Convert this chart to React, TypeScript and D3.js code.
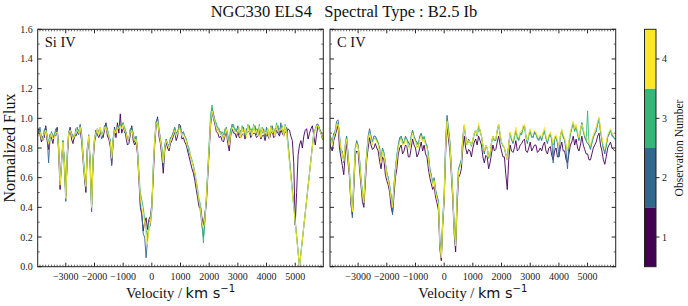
import React from 'react'
import * as d3 from 'd3'

// velocity grid of the spectra (km/s), one row of 20 values per 1000 km/s below
const velocity = d3.range(-4000, 6001, 50)

// Si IV, normalized flux per observation (null = no data)
const siObs1 = [
  0.85, 0.93, 0.89, 0.84, 0.88, 0.87, 0.95, 0.85, 0.79, 0.89, 0.87, 0.83, 0.89, 0.88, 0.94, 0.77, 0.52, 0.72, 0.81, 0.73,
  0.48, 0.72, 0.88, 0.94, 0.86, 0.83, 0.89, 0.88, 0.90, 0.92, 0.92, 0.85, 0.72, 0.60, 0.50, 0.80, 0.85, 0.72, 0.42, 0.70,
  0.83, 0.92, 0.89, 0.87, 0.90, 0.90, 0.87, 0.92, 0.97, 0.88, 0.86, 0.81, 0.69, 0.83, 0.94, 0.87, 0.97, 0.90, 1.03, 0.90,
  0.93, 0.94, 0.87, 0.82, 0.83, 0.89, 0.95, 0.85, 0.82, 0.84, 0.76, 0.58, 0.40, 0.35, 0.24, 0.30, 0.33, 0.25, 0.32, 0.34,
  0.42, 0.60, 0.82, 0.95, 1.01, 0.88, 0.83, 0.74, 0.63, 0.78, 0.84, 0.80, 0.78, 0.83, 0.85, 0.88, 0.91, 0.85, 0.88, 0.96,
  0.95, 0.86, 0.87, 0.84, 0.82, 0.78, 0.74, 0.70, 0.66, 0.63, 0.58, 0.52, 0.46, 0.40, 0.40, 0.33, 0.28, 0.36, 0.42, 0.60,
  0.78, 0.95, 1.04, 1.00, 0.96, 0.91, 0.90, 0.87, 0.88, 0.85, 0.84, 0.88, 0.91, 0.83, 0.78, 0.88, 0.93, 0.90, 0.90, 0.87,
  0.91, 0.87, 0.87, 0.89, 0.90, 0.86, 0.90, 0.91, 0.91, 0.87, 0.89, 0.90, 0.90, 0.87, 0.88, 0.92, 0.86, 0.88, 0.89, 0.85,
  0.90, 0.88, 0.86, 0.90, 0.91, 0.87, 0.88, 0.92, 0.90, 0.88, 0.92, 0.90, 0.88, 0.91, 0.90, 0.93, 0.92, 0.88, 0.85, 0.70,
  0.28, 0.50, 0.75, 0.82, 0.85, 0.80, 0.88, 0.92, 0.93, 0.86, 0.90, 0.93, 0.95, 0.88, 0.82, 0.90, 0.95, 0.92, 0.90, 0.86,
  0.85,
]
const siObs2 = [
  0.89, 0.90, 0.94, 0.86, 0.85, 0.92, 0.94, 0.87, 0.70, 0.86, 0.91, 0.88, 0.88, 0.93, 0.93, 0.82, 0.56, 0.68, 0.85, 0.66,
  0.44, 0.76, 0.91, 0.93, 0.90, 0.87, 0.86, 0.93, 0.94, 0.89, 0.96, 0.90, 0.76, 0.63, 0.52, 0.77, 0.87, 0.66, 0.37, 0.74,
  0.85, 0.88, 0.93, 0.91, 0.92, 0.86, 0.89, 0.95, 0.96, 0.93, 0.87, 0.86, 0.68, 0.86, 0.91, 0.92, 0.94, 0.95, 0.96, 0.94,
  0.97, 0.90, 0.91, 0.86, 0.85, 0.93, 0.94, 0.90, 0.84, 0.88, 0.79, 0.62, 0.42, 0.36, 0.22, 0.20, 0.06, 0.18, 0.26, 0.28,
  0.38, 0.66, 0.84, 0.98, 1.00, 0.93, 0.86, 0.80, 0.68, 0.82, 0.86, 0.83, 0.81, 0.87, 0.88, 0.91, 0.94, 0.90, 0.91, 0.93,
  0.92, 0.90, 0.91, 0.88, 0.86, 0.81, 0.77, 0.74, 0.71, 0.68, 0.60, 0.57, 0.48, 0.44, 0.36, 0.28, 0.20, 0.30, 0.44, 0.64,
  0.80, 0.99, 1.07, 1.03, 0.99, 0.95, 0.94, 0.91, 0.91, 0.89, 0.86, 0.91, 0.94, 0.87, 0.83, 0.91, 0.96, 0.94, 0.93, 0.91,
  0.95, 0.89, 0.92, 0.91, 0.94, 0.88, 0.93, 0.93, 0.95, 0.89, 0.93, 0.92, 0.95, 0.89, 0.93, 0.93, 0.91, 0.90, 0.93, 0.87,
  0.94, 0.89, 0.90, 0.91, 0.95, 0.89, 0.93, 0.93, 0.95, 0.89, 0.97, 0.91, 0.92, 0.92, 0.94, null, null, null, null, null,
  null, null, null, 0.00, null, null, null, null, null, null, null, null, null, 0.90, 0.92, 0.96, 0.96, 0.93, 0.91, 0.88,
  0.86,
]
const siObs3 = [
  0.90, 0.92, 0.91, 0.88, 0.87, 0.91, 0.92, 0.89, 0.84, 0.88, 0.90, 0.87, 0.88, 0.92, 0.91, 0.81, 0.58, 0.71, 0.85, 0.72,
  0.48, 0.76, 0.90, 0.91, 0.90, 0.88, 0.88, 0.90, 0.93, 0.91, 0.95, 0.89, 0.76, 0.64, 0.55, 0.79, 0.89, 0.71, 0.40, 0.73,
  0.87, 0.91, 0.92, 0.90, 0.94, 0.89, 0.91, 0.93, 0.95, 0.92, 0.89, 0.85, 0.74, 0.87, 0.93, 0.91, 0.95, 0.94, 0.96, 0.94,
  0.97, 0.93, 0.90, 0.86, 0.87, 0.92, 0.93, 0.89, 0.86, 0.87, 0.80, 0.63, 0.50, 0.45, 0.40, 0.32, 0.25, 0.20, 0.30, 0.32,
  0.40, 0.68, 0.86, 0.97, 0.99, 0.92, 0.86, 0.79, 0.70, 0.81, 0.85, 0.83, 0.81, 0.86, 0.88, 0.90, 0.93, 0.89, 0.91, 0.95,
  0.93, 0.89, 0.90, 0.88, 0.86, 0.82, 0.80, 0.75, 0.72, 0.68, 0.64, 0.58, 0.52, 0.45, 0.42, 0.28, 0.16, 0.34, 0.47, 0.65,
  0.84, 1.02, 1.09, 1.00, 0.97, 0.97, 0.92, 0.93, 0.89, 0.91, 0.89, 0.93, 0.92, 0.89, 0.85, 0.93, 0.94, 0.96, 0.91, 0.93,
  0.92, 0.93, 0.88, 0.95, 0.91, 0.92, 0.89, 0.96, 0.92, 0.93, 0.90, 0.96, 0.91, 0.93, 0.90, 0.96, 0.88, 0.94, 0.90, 0.91,
  0.91, 0.93, 0.87, 0.95, 0.92, 0.93, 0.90, 0.97, 0.92, 0.93, 0.94, 0.95, 0.89, 0.96, 0.91, null, null, null, null, null,
  null, null, null, 0.00, null, null, null, null, null, null, null, null, null, 0.91, 0.93, 0.95, 0.95, 0.92, 0.90, 0.87,
  0.85,
]
const siObs4 = [
  0.88, 0.90, 0.91, 0.86, 0.86, 0.90, 0.92, 0.87, 0.83, 0.87, 0.90, 0.86, 0.87, 0.90, 0.91, 0.80, 0.55, 0.70, 0.84, 0.70,
  0.46, 0.75, 0.90, 0.92, 0.89, 0.86, 0.88, 0.91, 0.92, 0.90, 0.94, 0.88, 0.74, 0.62, 0.54, 0.78, 0.88, 0.70, 0.40, 0.72,
  0.86, 0.90, 0.93, 0.89, 0.94, 0.88, 0.90, 0.94, 0.94, 0.91, 0.88, 0.84, 0.73, 0.85, 0.92, 0.90, 0.94, 0.93, 0.95, 0.93,
  0.96, 0.92, 0.90, 0.85, 0.86, 0.91, 0.92, 0.88, 0.85, 0.86, 0.78, 0.60, 0.46, 0.40, 0.35, 0.30, 0.20, 0.15, 0.26, 0.30,
  0.40, 0.65, 0.85, 0.96, 0.98, 0.91, 0.85, 0.78, 0.70, 0.80, 0.85, 0.82, 0.80, 0.85, 0.87, 0.89, 0.92, 0.88, 0.90, 0.93,
  0.92, 0.88, 0.89, 0.87, 0.85, 0.80, 0.79, 0.74, 0.71, 0.67, 0.63, 0.57, 0.50, 0.44, 0.38, 0.30, 0.26, 0.33, 0.45, 0.63,
  0.80, 0.97, 1.05, 1.01, 0.98, 0.93, 0.93, 0.90, 0.90, 0.88, 0.86, 0.89, 0.93, 0.86, 0.82, 0.89, 0.94, 0.92, 0.92, 0.90,
  0.90, 0.94, 0.87, 0.93, 0.89, 0.93, 0.87, 0.95, 0.90, 0.92, 0.88, 0.95, 0.90, 0.92, 0.88, 0.95, 0.87, 0.93, 0.89, 0.91,
  0.89, 0.93, 0.86, 0.94, 0.90, 0.93, 0.88, 0.95, 0.91, 0.92, 0.92, 0.94, 0.88, 0.95, 0.90, null, null, null, null, null,
  null, null, null, 0.00, null, null, null, null, null, null, null, null, null, 0.90, 0.92, 0.95, 0.95, 0.92, 0.90, 0.87,
  0.85,
]

// C IV, normalized flux per observation
const cObs1 = [
  0.85, 0.80, 0.78, 0.85, 0.88, 0.92, 0.95, 0.80, 0.74, 0.68, 0.62, 0.76, 0.83, 0.70, 0.60, 0.42, 0.35, 0.52, 0.75, 0.78,
  0.77, 0.66, 0.55, 0.44, 0.40, 0.56, 0.72, 0.80, 0.87, 0.82, 0.79, 0.80, 0.83, 0.80, 0.78, 0.71, 0.66, 0.74, 0.72, 0.62,
  0.58, 0.55, 0.50, 0.40, 0.36, 0.48, 0.60, 0.66, 0.76, 0.80, 0.82, 0.76, 0.78, 0.82, 0.81, 0.74, 0.74, 0.80, 0.86, 0.82,
  0.80, 0.74, 0.76, 0.80, 0.84, 0.78, 0.82, 0.76, 0.74, 0.66, 0.60, 0.56, 0.52, 0.54, 0.47, 0.43, 0.38, 0.12, 0.04, 0.28,
  0.44, 0.76, 0.95, 0.86, 0.78, 0.62, 0.45, 0.22, 0.10, 0.40, 0.60, 0.62, 0.66, 0.80, 0.88, 0.80, 0.76, 0.79, 0.78, 0.74,
  0.80, 0.84, 0.86, 0.82, 0.88, 0.85, 0.82, 0.74, 0.70, 0.75, 0.74, 0.66, 0.70, 0.76, 0.82, 0.78, 0.79, 0.84, 0.88, 0.82,
  0.78, 0.74, 0.74, 0.62, 0.52, 0.72, 0.82, 0.78, 0.77, 0.80, 0.85, 0.78, 0.79, 0.82, 0.83, 0.85, 0.86, 0.78, 0.77, 0.80,
  0.84, 0.78, 0.80, 0.82, 0.82, 0.77, 0.78, 0.80, 0.78, 0.82, 0.84, 0.78, 0.76, 0.80, 0.81, 0.75, 0.72, 0.78, 0.80, 0.74,
  0.74, 0.80, 0.84, 0.78, 0.78, 0.72, 0.70, 0.76, 0.82, 0.84, 0.88, 0.82, 0.86, 0.80, 0.78, 0.82, 0.88, 0.82, 0.79, 0.76,
  0.76, 0.72, 0.72, 0.76, 0.80, 0.82, 0.84, 0.88, 0.90, 0.82, 0.78, 0.72, 0.69, 0.74, 0.80, 0.82, 0.84, 0.80, 0.79, 0.78,
  0.78,
]
const cObs2 = [
  0.88, 0.87, 0.84, 0.90, 0.91, 0.98, 0.99, 0.89, 0.77, 0.78, 0.70, 0.82, 0.88, 0.76, 0.63, 0.44, 0.33, 0.57, 0.79, 0.85,
  0.82, 0.72, 0.59, 0.50, 0.42, 0.62, 0.76, 0.88, 0.93, 0.88, 0.84, 0.88, 0.88, 0.86, 0.83, 0.80, 0.71, 0.80, 0.77, 0.70,
  0.63, 0.60, 0.54, 0.47, 0.35, 0.55, 0.66, 0.75, 0.82, 0.87, 0.88, 0.85, 0.83, 0.88, 0.86, 0.84, 0.82, 0.88, 0.92, 0.88,
  0.85, 0.84, 0.82, 0.88, 0.90, 0.86, 0.87, 0.84, 0.81, 0.76, 0.66, 0.62, 0.56, 0.60, 0.52, 0.48, 0.44, 0.18, 0.08, 0.32,
  0.48, 0.84, 1.02, 0.93, 0.84, 0.68, 0.50, 0.28, 0.16, 0.48, 0.66, 0.69, 0.72, 0.88, 0.95, 0.88, 0.82, 0.86, 0.84, 0.82,
  0.85, 0.90, 0.92, 0.88, 0.95, 0.92, 0.88, 0.82, 0.76, 0.82, 0.80, 0.74, 0.75, 0.84, 0.88, 0.85, 0.85, 0.92, 0.96, 0.89,
  0.83, 0.82, 0.80, 0.76, 0.72, 0.83, 0.90, 0.86, 0.83, 0.88, 0.92, 0.88, 0.85, 0.90, 0.89, 0.94, 0.95, 0.88, 0.83, 0.89,
  0.91, 0.88, 0.87, 0.91, 0.89, 0.87, 0.85, 0.88, 0.85, 0.90, 0.91, 0.87, 0.83, 0.88, 0.89, 0.86, 0.70, 0.86, 0.87, 0.84,
  0.74, 0.88, 0.92, 0.88, 0.85, 0.78, 0.66, 0.84, 0.89, 0.94, 0.97, 0.92, 0.94, 0.90, 0.85, 0.92, 0.97, 0.92, 0.87, 0.85,
  0.83, 0.82, 0.79, 0.84, 0.87, 0.90, 0.91, 0.97, 1.00, 0.92, 0.85, 0.80, 0.76, 0.82, 0.87, 0.90, 0.92, 0.89, 0.87, 0.86,
  0.85,
]
const cObs3 = [
  0.89, 0.84, 0.83, 0.86, 0.92, 0.94, 0.97, 0.88, 0.80, 0.75, 0.72, 0.79, 0.87, 0.75, 0.64, 0.48, 0.38, 0.58, 0.80, 0.84,
  0.81, 0.73, 0.60, 0.50, 0.45, 0.62, 0.77, 0.86, 0.91, 0.87, 0.84, 0.86, 0.87, 0.85, 0.84, 0.77, 0.72, 0.79, 0.76, 0.70,
  0.64, 0.59, 0.55, 0.48, 0.42, 0.54, 0.66, 0.74, 0.81, 0.85, 0.88, 0.83, 0.84, 0.87, 0.86, 0.81, 0.81, 0.87, 0.91, 0.87,
  0.86, 0.81, 0.81, 0.87, 0.89, 0.85, 0.88, 0.83, 0.82, 0.74, 0.66, 0.61, 0.57, 0.59, 0.51, 0.47, 0.44, 0.16, 0.07, 0.31,
  0.47, 0.82, 0.99, 0.92, 0.84, 0.66, 0.49, 0.27, 0.15, 0.46, 0.65, 0.68, 0.72, 0.86, 0.94, 0.87, 0.82, 0.85, 0.84, 0.81,
  0.86, 0.89, 0.92, 0.88, 0.94, 0.91, 0.88, 0.81, 0.77, 0.81, 0.80, 0.73, 0.76, 0.83, 0.88, 0.85, 0.86, 0.91, 0.95, 0.89,
  0.84, 0.81, 0.80, 0.75, 0.74, 0.81, 0.90, 0.85, 0.84, 0.87, 0.92, 0.86, 0.86, 0.89, 0.90, 0.93, 0.95, 0.87, 0.84, 0.88,
  0.92, 0.87, 0.88, 0.90, 0.90, 0.86, 0.86, 0.87, 0.86, 0.89, 0.92, 0.86, 0.84, 0.87, 0.90, 0.85, 0.82, 0.86, 0.88, 0.83,
  0.82, 0.87, 0.92, 0.87, 0.86, 0.81, 0.78, 0.83, 0.90, 0.93, 0.97, 0.91, 0.95, 0.89, 0.86, 0.91, 0.97, 0.91, 0.88, 0.85,
  1.05, 0.82, 0.80, 0.83, 0.88, 0.89, 0.92, 0.96, 0.98, 0.91, 0.86, 0.79, 0.78, 0.81, 0.88, 0.89, 0.92, 0.88, 0.88, 0.86,
  0.86,
]
const cObs4 = [
  0.88, 0.86, 0.82, 0.88, 0.90, 0.96, 0.96, 0.87, 0.79, 0.76, 0.71, 0.81, 0.86, 0.74, 0.62, 0.46, 0.37, 0.56, 0.78, 0.83,
  0.80, 0.71, 0.58, 0.49, 0.43, 0.61, 0.75, 0.86, 0.90, 0.86, 0.82, 0.86, 0.86, 0.84, 0.82, 0.77, 0.70, 0.78, 0.75, 0.69,
  0.62, 0.58, 0.53, 0.46, 0.40, 0.53, 0.64, 0.73, 0.80, 0.84, 0.86, 0.82, 0.82, 0.86, 0.84, 0.80, 0.80, 0.86, 0.90, 0.86,
  0.84, 0.80, 0.80, 0.86, 0.88, 0.84, 0.86, 0.82, 0.80, 0.73, 0.64, 0.60, 0.55, 0.58, 0.50, 0.46, 0.42, 0.15, 0.06, 0.30,
  0.46, 0.80, 0.98, 0.90, 0.82, 0.65, 0.48, 0.25, 0.14, 0.45, 0.64, 0.67, 0.70, 0.86, 0.96, 0.87, 0.82, 0.85, 0.84, 0.82,
  0.86, 0.90, 0.92, 0.89, 0.97, 0.92, 0.88, 0.82, 0.78, 0.82, 0.80, 0.74, 0.76, 0.84, 0.88, 0.86, 0.86, 0.92, 0.96, 0.90,
  0.84, 0.82, 0.80, 0.76, 0.72, 0.82, 0.91, 0.87, 0.85, 0.89, 0.94, 0.88, 0.87, 0.91, 0.91, 0.95, 0.96, 0.88, 0.85, 0.90,
  0.93, 0.89, 0.90, 0.92, 0.91, 0.88, 0.87, 0.89, 0.87, 0.91, 0.94, 0.88, 0.85, 0.89, 0.91, 0.87, 0.83, 0.88, 0.89, 0.85,
  0.82, 0.88, 0.93, 0.89, 0.87, 0.82, 0.78, 0.85, 0.91, 0.95, 0.98, 0.93, 0.96, 0.91, 0.87, 0.93, 0.96, 0.93, 0.89, 0.87,
  0.86, 0.84, 0.82, 0.86, 0.89, 0.92, 0.94, 0.98, 1.01, 0.93, 0.87, 0.82, 0.80, 0.84, 0.89, 0.91, 0.93, 0.90, 0.89, 0.88,
  0.87,
]

const obsNumbers = [1, 2, 3, 4]
const obsColors = ['#440154', '#31688e', '#35b779', '#fde725']
const xTicks = [-3000, -2000, -1000, 0, 1000, 2000, 3000, 4000, 5000]
const yTicks = [0, 0.2, 0.4, 0.6, 0.8, 1.0, 1.2, 1.4, 1.6]

const panels = [
  { id: 'si', label: 'Si IV', left: 37.7, right: 323.3, series: [siObs1, siObs2, siObs3, siObs4], yLabels: true },
  { id: 'c', label: 'C IV', left: 330, right: 615.7, series: [cObs1, cObs2, cObs3, cObs4], yLabels: false },
]

const TOP = 29.3
const BOTTOM = 266.7
const SERIF = '"Liberation Serif", "Times New Roman", serif'
const SANS = '"DejaVu Sans", sans-serif'
const AXIS = '#222'

const fmtX = (v: number) => (v < 0 ? '\u2212' : '') + Math.abs(v)

function Panel({ p }: { p: typeof panels[number] }) {
  const x = d3.scaleLinear().domain([-3980, 5980]).range([p.left, p.right])
  const y = d3.scaleLinear().domain([0, 1.6]).range([BOTTOM, TOP])
  const line = d3.line<[number, number]>().x(d => x(d[0])).y(d => y(d[1]))
  const xMinor = d3.range(-3900, 6000, 100).filter(v => v % 1000 !== 0)
  const yMinor = d3.range(0.1, 1.6, 0.2)
  const clipId = 'clip-' + p.id

  return (
    <g>
      <clipPath id={clipId}>
        <rect x={p.left} y={TOP} width={p.right - p.left} height={BOTTOM - TOP} />
      </clipPath>
      <g clipPath={`url(#${clipId})`}>
        {p.series.map((s, i) => {
          // missing samples are skipped, so the line joins across the gap
          const pts = velocity
            .map((v, k) => [v, s[k]] as [number, number | null])
            .filter(d => d[1] !== null) as [number, number][]
          return <path key={i} d={line(pts) || ''} fill="none" stroke={obsColors[i]} strokeWidth={0.9} strokeLinejoin="round" />
        })}
      </g>
      <rect x={p.left} y={TOP} width={p.right - p.left} height={BOTTOM - TOP} fill="none" stroke={AXIS} strokeWidth={1} />
      {xTicks.map(t => (
        <g key={'xt' + t}>
          <line x1={x(t)} x2={x(t)} y1={BOTTOM} y2={BOTTOM - 4} stroke={AXIS} />
          <line x1={x(t)} x2={x(t)} y1={TOP} y2={TOP + 4} stroke={AXIS} />
          <text x={x(t)} y={BOTTOM + 13} textAnchor="middle" fontFamily={SERIF} fontSize={10} fill="#222">{fmtX(t)}</text>
        </g>
      ))}
      {xMinor.map(t => (
        <g key={'xm' + t}>
          <line x1={x(t)} x2={x(t)} y1={BOTTOM} y2={BOTTOM - 2} stroke={AXIS} strokeWidth={0.7} />
          <line x1={x(t)} x2={x(t)} y1={TOP} y2={TOP + 2} stroke={AXIS} strokeWidth={0.7} />
        </g>
      ))}
      {yTicks.map(t => (
        <g key={'yt' + t}>
          <line x1={p.left} x2={p.left + 4} y1={y(t)} y2={y(t)} stroke={AXIS} />
          <line x1={p.right} x2={p.right - 4} y1={y(t)} y2={y(t)} stroke={AXIS} />
          {p.yLabels && (
            <text x={p.left - 5} y={y(t) + 3.5} textAnchor="end" fontFamily={SERIF} fontSize={10} fill="#222">{d3.format('.1f')(t)}</text>
          )}
        </g>
      ))}
      {yMinor.map(t => (
        <g key={'ym' + t}>
          <line x1={p.left} x2={p.left + 2} y1={y(t)} y2={y(t)} stroke={AXIS} strokeWidth={0.7} />
          <line x1={p.right} x2={p.right - 2} y1={y(t)} y2={y(t)} stroke={AXIS} strokeWidth={0.7} />
        </g>
      ))}
      <text x={p.left + 7} y={TOP + 18} fontFamily={SERIF} fontSize={14.5} fill="#111">{p.label}</text>
      <text x={(p.left + p.right) / 2} y={298} textAnchor="middle" fontSize={14.5} fill="#111">
        <tspan fontFamily={SERIF}>Velocity / </tspan>
        <tspan fontFamily={SANS}>km s</tspan>
        <tspan fontFamily={SANS} fontSize={10} dy={-6}>{'\u22121'}</tspan>
      </text>
    </g>
  )
}

function ColorBar() {
  const left = 644.5
  const w = 11.5
  const cy = d3.scaleLinear().domain([0.5, 4.5]).range([BOTTOM, TOP])
  return (
    <g>
      {obsNumbers.map((n, i) => (
        <rect key={n} x={left} y={cy(n + 0.5)} width={w} height={cy(n - 0.5) - cy(n + 0.5)} fill={obsColors[i]} />
      ))}
      <rect x={left} y={TOP} width={w} height={BOTTOM - TOP} fill="none" stroke={AXIS} strokeWidth={1} />
      {obsNumbers.map(n => (
        <g key={'cb' + n}>
          <line x1={left + w} x2={left + w + 3.5} y1={cy(n)} y2={cy(n)} stroke={AXIS} />
          <text x={left + w + 6} y={cy(n) + 3.5} fontFamily={SERIF} fontSize={10} fill="#222">{n}</text>
        </g>
      ))}
      <text transform={`translate(683,148) rotate(-90)`} textAnchor="middle" fontFamily={SERIF} fontSize={11.5} fill="#111">Observation Number</text>
    </g>
  )
}

export default function App() {
  return (
    <svg width={688} height={306} style={{ position: 'absolute', left: 0, top: 0, background: '#fff' }}>
      <text x={344} y={17} textAnchor="middle" fontFamily={SERIF} fontSize={16.5} fill="#111" style={{ whiteSpace: 'pre' }}>
        {'NGC330 ELS4   Spectral Type : B2.5 Ib'}
      </text>
      <text transform="translate(15,148) rotate(-90)" textAnchor="middle" fontFamily={SERIF} fontSize={16} fill="#111">Normalized Flux</text>
      {panels.map(p => <Panel key={p.id} p={p} />)}
      <ColorBar />
    </svg>
  )
}
